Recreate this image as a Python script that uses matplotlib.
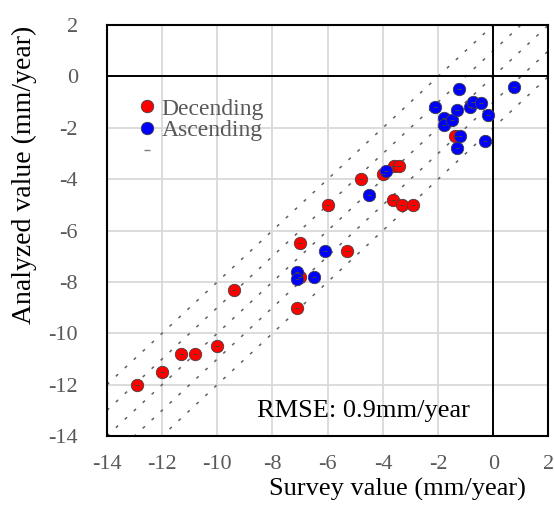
import numpy as np
import matplotlib
matplotlib.use('Agg')
import matplotlib.pyplot as plt
from matplotlib.lines import Line2D

plt.rcParams['font.family'] = ['Liberation Serif', 'DejaVu Serif']
plt.rcParams['axes.unicode_minus'] = False

# survey vs analyzed displacement rates (mm/year)
desc_survey = [-12.9, -12.0, -11.3, -10.8, -10.0, -9.4, -7.1, -7.0, -7.0, -6.0,
               -5.3, -4.8, -4.0, -3.6, -3.4, -3.65, -3.3, -2.9, -1.4]
desc_analyzed = [-12.0, -11.5, -10.8, -10.8, -10.5, -8.3, -9.0, -7.8, -6.5, -5.0,
                 -6.8, -4.0, -3.8, -3.5, -3.5, -4.8, -5.0, -5.0, -2.3]

asc_survey = [-7.1, -7.1, -6.5, -6.1, -4.5, -3.9, -2.1, -1.8, -1.8, -1.5, -1.3,
              -1.2, -0.85, -0.75, -0.45, -0.2, -0.3, -1.3, -1.25, 0.75]
asc_analyzed = [-7.6, -7.9, -7.8, -6.8, -4.6, -3.7, -1.2, -1.6, -1.9, -1.7, -1.3,
                -2.3, -1.2, -1.0, -1.05, -1.5, -2.5, -2.8, -0.5, -0.4]

# offsets of the reference lines y = x + k
ref_offsets = [-2, -1, 0, 1, 2]

x_ticks = [-14, -12, -10, -8, -6, -4, -2, 0, 2]
y_ticks = [-14, -12, -10, -8, -6, -4, -2, 0, 2]

tick_gray = '#595959'

fig = plt.figure(figsize=(5.54, 5.12), dpi=100)
ax = fig.add_axes([0.193, 0.1484, 0.797, 0.8026])

ax.set_xlim(-14, 2)
ax.set_ylim(-14, 2)
ax.set_xticks(x_ticks)
ax.set_yticks(y_ticks)
ax.grid(True, color='#d9d9d9', linewidth=1.3)
ax.set_axisbelow(True)

# reference band lines
for k in ref_offsets:
    ax.plot([-14, 2], [-14 + k, 2 + k], color='#606060', linewidth=1.1,
            linestyle=(0, (2, 6)), zorder=1.5)

ax.axhline(0, color='black', linewidth=1.4, zorder=2)
ax.axvline(0, color='black', linewidth=1.4, zorder=2)

ax.scatter(desc_survey, desc_analyzed, s=80, color='#ff0000',
           edgecolor='#404040', linewidth=0.6, zorder=3)
ax.scatter(asc_survey, asc_analyzed, s=80, color='#0000ff',
           edgecolor='#404040', linewidth=0.6, zorder=3)
ax.scatter(desc_survey + asc_survey, desc_analyzed + asc_analyzed, s=8,
           marker='_', color='#404040', linewidth=0.7, zorder=4)

for sp in ax.spines.values():
    sp.set_color('black')
    sp.set_linewidth(1.5)

ax.tick_params(length=0, labelsize=16, labelcolor=tick_gray)
ax.tick_params(axis='y', pad=21)
ax.tick_params(axis='x', pad=14)

ax.set_xlabel('Survey value (mm/year)', fontsize=19)
ax.set_ylabel('Analyzed value (mm/year)', fontsize=20)
ax.xaxis.set_label_coords(0.658, -0.102)
ax.yaxis.set_label_coords(-0.158, 0.635)

handles = [
    Line2D([], [], ls='none', marker='o', markersize=9, markerfacecolor='#ff0000',
           markeredgecolor='#404040', markeredgewidth=0.6, label='Decending'),
    Line2D([], [], ls='none', marker='o', markersize=9, markerfacecolor='#0000ff',
           markeredgecolor='#404040', markeredgewidth=0.6, label='Ascending'),
    Line2D([], [], ls='none', marker='_', markersize=4, color='#7f7f7f', label=' '),
]
leg = ax.legend(handles=handles, loc='upper left', bbox_to_anchor=(0.038, 0.845),
                frameon=False, fontsize=17, handletextpad=0.0, handlelength=1.2,
                labelspacing=0.0, borderaxespad=0)
for t in leg.get_texts():
    t.set_color(tick_gray)

ax.text(0.822, 0.034, 'RMSE: 0.9mm/year', transform=ax.transAxes, fontsize=19,
        ha='right', va='bottom', color='black')

fig.savefig('out.png', dpi=100)
